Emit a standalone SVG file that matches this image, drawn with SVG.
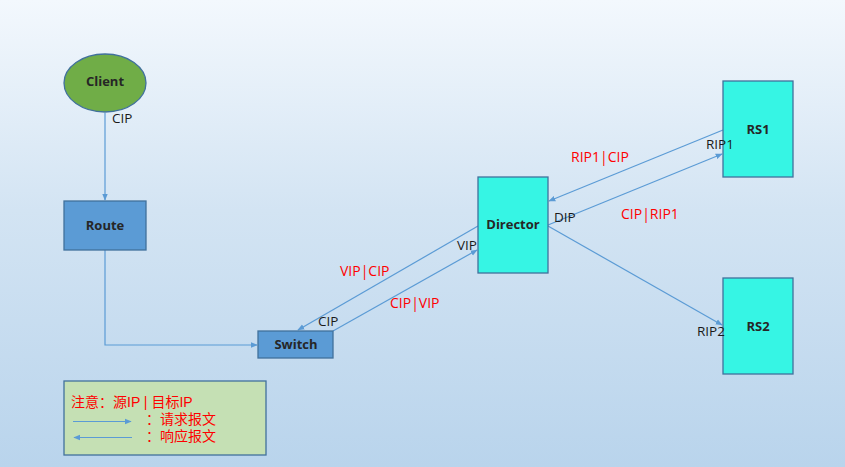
<svg xmlns="http://www.w3.org/2000/svg" width="845" height="467" viewBox="0 0 845 467">
<defs>
<linearGradient id="bg" x1="0" y1="0" x2="0" y2="1">
<stop offset="0" stop-color="#f3f8fd"/>
<stop offset="0.45" stop-color="#d3e4f3"/>
<stop offset="1" stop-color="#b9d4ec"/>
</linearGradient>
<marker id="arr" viewBox="0 0 10 10" refX="9" refY="5" markerWidth="7" markerHeight="7" markerUnits="userSpaceOnUse" orient="auto">
<path d="M0,1 L10,5 L0,9 z" fill="#5b9bd5"/>
</marker>
<style>
.ln{fill:none;stroke:#5b9bd5;stroke-width:1.2;}
.node{stroke:#41719c;stroke-width:1.3;}
.bl{font-family:"Open Sans","Noto Sans",sans-serif;font-weight:bold;font-size:13px;fill:#262626;text-anchor:middle;}
.lab{font-family:"Open Sans","Noto Sans",sans-serif;font-size:13.5px;fill:#1a1a1a;}
.red{font-family:"Open Sans","Noto Sans",sans-serif;font-size:14px;fill:#ff0000;}
.cjk{font-family:"Liberation Sans","Noto Sans CJK SC",sans-serif;font-size:14px;fill:#ff0000;}
</style>
</defs>
<rect width="845" height="467" fill="url(#bg)"/>
<g id="connectors">
<path class="ln" d="M105,113 L105,200" marker-end="url(#arr)"/>
<path class="ln" d="M105,250 L105,345 L257,345" marker-end="url(#arr)"/>
<path class="ln" d="M478,226 L298,330" marker-end="url(#arr)"/>
<path class="ln" d="M333,331 L477,250" marker-end="url(#arr)"/>
<path class="ln" d="M723,130 L549,201" marker-end="url(#arr)"/>
<path class="ln" d="M548,225 L722,154" marker-end="url(#arr)"/>
<path class="ln" d="M548,226 L722,325" marker-end="url(#arr)"/>
</g>
<g id="client">
<ellipse class="node" cx="105" cy="83" rx="41" ry="29" fill="#70ad47"/>
<text class="bl" x="105" y="86">Client</text>
</g>
<g id="route">
<rect class="node" x="64" y="201" width="82" height="49" fill="#5b9bd5"/>
<text class="bl" x="105" y="230">Route</text>
</g>
<g id="switch">
<rect class="node" x="258" y="331" width="75" height="27" fill="#5b9bd5"/>
<text class="bl" x="296" y="349">Switch</text>
</g>
<g id="director">
<rect class="node" x="478" y="177" width="70" height="96" fill="#36f5e4"/>
<text class="bl" x="513" y="229">Director</text>
</g>
<g id="rs1">
<rect class="node" x="723" y="81" width="70" height="96" fill="#36f5e4"/>
<text class="bl" x="758" y="134">RS1</text>
</g>
<g id="rs2">
<rect class="node" x="723" y="278" width="70" height="96" fill="#36f5e4"/>
<text class="bl" x="758" y="331">RS2</text>
</g>
<g id="labels">
<text class="lab" x="112" y="123">CIP</text>
<text class="lab" x="318" y="326">CIP</text>
<text class="lab" x="457" y="250">VIP</text>
<text class="lab" x="554" y="222">DIP</text>
<text class="lab" x="706" y="149">RIP1</text>
<text class="lab" x="697" y="336">RIP2</text>
<text class="red" x="340" y="276">VIP|CIP</text>
<text class="red" x="390" y="308">CIP|VIP</text>
<text class="red" x="571" y="162">RIP1|CIP</text>
<text class="red" x="621" y="219">CIP|RIP1</text>
</g>
<g id="legend">
<rect x="64" y="381" width="202" height="74" fill="#c5e0b4" stroke="#41719c" stroke-width="1.3"/>
<text class="cjk" x="71" y="407">注意：源IP | 目标IP</text>
<path class="ln" d="M73,421.5 L131,421.5" marker-end="url(#arr)"/>
<path class="ln" d="M132,437.5 L74,437.5" marker-end="url(#arr)"/>
<text class="cjk" x="146" y="424">：请求报文</text>
<text class="cjk" x="146" y="441">：响应报文</text>
</g>
</svg>
